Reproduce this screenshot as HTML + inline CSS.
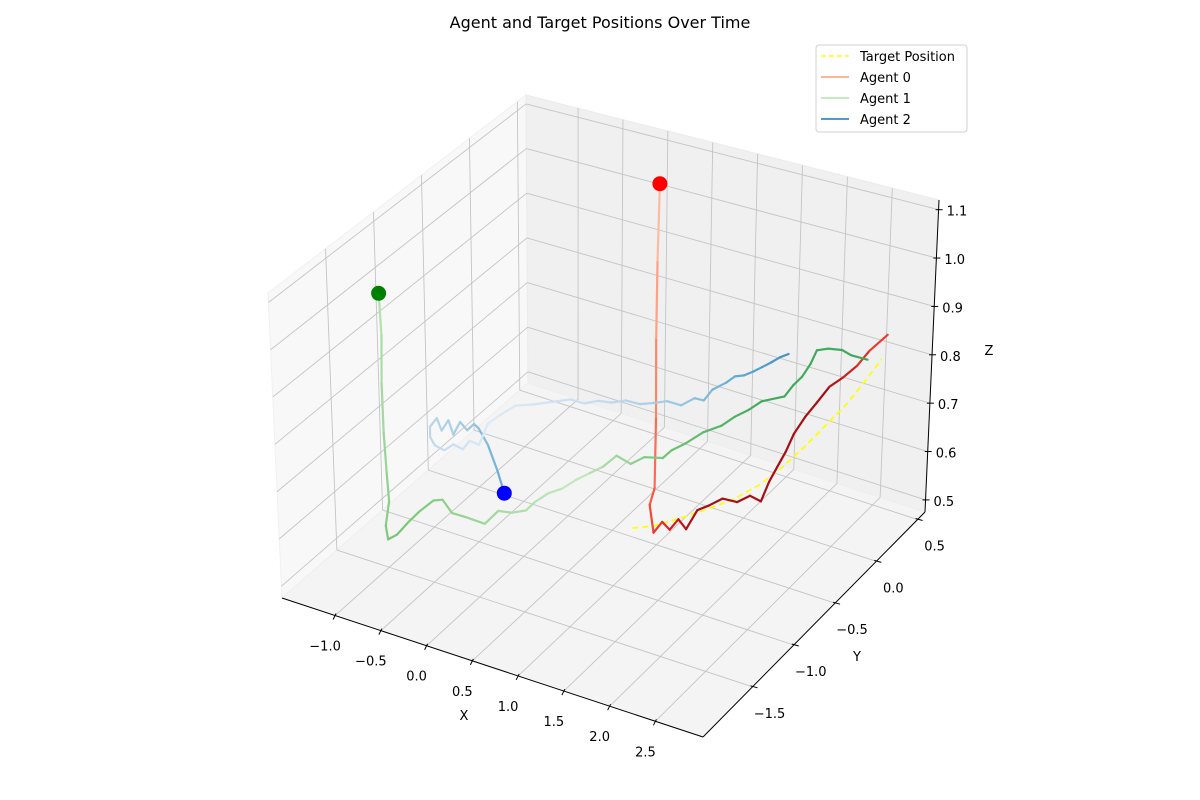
<!DOCTYPE html>
<html><head><meta charset="utf-8"><title>Agent and Target Positions Over Time</title>
<style>
html,body{margin:0;padding:0;background:#fff;}
svg{display:block;font-family:"DejaVu Sans","Liberation Sans",sans-serif;}
</style></head>
<body>
<svg id="chart" width="1200" height="800" viewBox="0 0 1200 800" xmlns="http://www.w3.org/2000/svg">
<rect width="1200" height="800" fill="#fff"/>
<text x="600" y="28" text-anchor="middle" font-size="16" fill="#000">Agent and Target Positions Over Time</text>
<g id="panes"></g>
<g id="grid"></g>
<g id="axes"></g>
<g id="series"></g>
<text x="464" y="720" text-anchor="middle" font-size="13">X</text>
<text x="857" y="661" text-anchor="middle" font-size="13">Y</text>
<text x="989" y="355" text-anchor="middle" font-size="13">Z</text>
<g>
<rect x="816" y="45" width="151" height="87" rx="3" fill="#fff" fill-opacity="0.8" stroke="#d0d0d0"/>
<line x1="821" y1="56" x2="849" y2="56" stroke="#ffff00" stroke-width="1.6" stroke-dasharray="5,3"/>
<text x="860" y="61" font-size="13">Target Position</text>
<line x1="821" y1="77" x2="849" y2="77" stroke="#fcb49a" stroke-width="2"/>
<text x="860" y="82" font-size="13">Agent 0</text>
<line x1="821" y1="98" x2="849" y2="98" stroke="#c7e9c0" stroke-width="2"/>
<text x="860" y="103" font-size="13">Agent 1</text>
<line x1="821" y1="119" x2="849" y2="119" stroke="#4f9ccc" stroke-width="2"/>
<text x="860" y="124" font-size="13">Agent 2</text>
</g>
</svg>
<script>
const xTicks = [-1.0,-0.5,0.0,0.5,1.0,1.5,2.0,2.5];
const yTicks = [-1.5,-1.0,-0.5,0.0,0.5];
const zTicks = [0.5,0.6,0.7,0.8,0.9,1.0,1.1];
const xTickLabels = ["\u22121.0","\u22120.5","0.0","0.5","1.0","1.5","2.0","2.5"];
const yTickLabels = ["\u22121.5","\u22121.0","\u22120.5","0.0","0.5"];
const zTickLabels = ["0.5","0.6","0.7","0.8","0.9","1.0","1.1"];
const xRange = [-1.58, 3.02];
const yRange = [-2.1, 0.59];
const zRange = [0.475, 1.12];

const targetX = [0.870,1.116,1.355,1.625,1.886,2.101,2.234,2.342,2.424,2.500,2.533,2.558];
const targetY = [-0.647,-0.658,-0.637,-0.594,-0.552,-0.454,-0.333,-0.185,-0.023,0.110,0.275,0.482];
const targetZ = [0.527,0.548,0.572,0.600,0.628,0.656,0.679,0.703,0.725,0.745,0.763,0.785];

const agent0X = [0.387,0.553,0.725,0.903,1.052,1.053,1.143,1.158,1.324,1.347,1.529,1.510,1.615,1.733,1.951,2.064,2.251,2.190,2.167,2.147,2.097,2.094,2.118,2.143,2.240,2.321,2.350,2.578];
const agent0Y = [0.122,-0.063,-0.244,-0.421,-0.583,-0.639,-0.685,-0.600,-0.685,-0.609,-0.709,-0.559,-0.540,-0.502,-0.560,-0.528,-0.600,-0.442,-0.322,-0.203,-0.056,0.079,0.176,0.306,0.364,0.439,0.553,0.519];
const agent0Z = [1.101,0.972,0.846,0.720,0.610,0.585,0.540,0.549,0.557,0.567,0.574,0.587,0.599,0.614,0.629,0.643,0.654,0.664,0.674,0.684,0.694,0.707,0.719,0.734,0.749,0.765,0.779,0.830];

const agent1X = [-1.179,-1.159,-1.162,-1.149,-1.130,-1.111,-1.140,-1.123,-1.072,-1.069,-1.051,-1.007,-0.919,-0.695,-0.509,-0.255,-0.233,-0.067,0.057,0.075,0.138,0.244,0.308,0.394,0.477,0.520,0.748,0.831,1.036,1.061,1.145,1.236,1.369,1.434,1.518,1.581,1.782,1.780,1.798,1.770,1.715,1.822,1.990,2.136,2.355];
const agent1Y = [-1.356,-1.358,-1.369,-1.374,-1.374,-1.374,-1.389,-1.385,-1.338,-1.214,-1.106,-0.997,-0.984,-1.101,-1.132,-1.177,-1.049,-1.060,-1.029,-0.947,-0.857,-0.810,-0.721,-0.654,-0.584,-0.475,-0.546,-0.476,-0.475,-0.399,-0.329,-0.218,-0.145,-0.058,0.012,0.100,0.156,0.259,0.342,0.468,0.598,0.619,0.608,0.565,0.527];
const agent1Z = [1.023,0.935,0.833,0.730,0.648,0.587,0.536,0.507,0.512,0.518,0.524,0.531,0.536,0.541,0.549,0.558,0.565,0.573,0.580,0.585,0.592,0.600,0.607,0.615,0.622,0.629,0.637,0.644,0.654,0.659,0.666,0.676,0.685,0.693,0.700,0.707,0.719,0.725,0.730,0.734,0.738,0.744,0.752,0.756,0.765];

const agent2X = [-0.598,-0.702,-0.815,-0.847,-0.780,-0.775,-0.912,-0.847,-1.025,-0.981,-1.138,-1.113,-1.013,-0.895,-0.773,-0.754,-0.631,-0.656,-0.541,-0.604,-0.668,-0.638,-0.573,-0.410,-0.255,-0.099,0.073,0.183,0.333,0.445,0.620,0.742,0.862,1.035,1.105,1.212,1.197,1.270,1.295,1.377,1.431,1.479,1.525,1.566,1.622];
const agent2Y = [-0.619,-0.593,-0.581,-0.648,-0.763,-0.843,-0.785,-0.924,-0.801,-0.919,-0.816,-0.915,-1.013,-1.077,-1.096,-1.014,-1.033,-0.934,-0.945,-0.833,-0.722,-0.626,-0.513,-0.470,-0.420,-0.371,-0.388,-0.346,-0.341,-0.299,-0.317,-0.286,-0.253,-0.270,-0.188,-0.192,-0.078,0.003,0.079,0.100,0.148,0.201,0.257,0.317,0.361];
const agent2Z = [0.507,0.546,0.591,0.636,0.669,0.669,0.669,0.669,0.669,0.669,0.669,0.669,0.669,0.669,0.669,0.669,0.669,0.669,0.669,0.669,0.669,0.672,0.678,0.683,0.689,0.695,0.699,0.704,0.708,0.712,0.717,0.721,0.726,0.730,0.735,0.737,0.740,0.745,0.747,0.750,0.753,0.756,0.759,0.762,0.765];

const NS = "http://www.w3.org/2000/svg";
const C = {
  c000:[282,598], c100:[703,737], c010:[528,383], c110:[925,512],
  c001:[268,293], c101:[711,405], c011:[526,95], c111:[939,200]
};
function lerp(a,b,t){return [a[0]+(b[0]-a[0])*t, a[1]+(b[1]-a[1])*t];}
function P(x,y,z){
  const u=(x-xRange[0])/(xRange[1]-xRange[0]);
  const v=(y-yRange[0])/(yRange[1]-yRange[0]);
  const w=(z-zRange[0])/(zRange[1]-zRange[0]);
  const b=lerp(lerp(C.c000,C.c100,u),lerp(C.c010,C.c110,u),v);
  const t=lerp(lerp(C.c001,C.c101,u),lerp(C.c011,C.c111,u),v);
  return lerp(b,t,w);
}
function mk(tag,attrs,parent){const e=document.createElementNS(NS,tag);for(const k in attrs)e.setAttribute(k,attrs[k]);parent.appendChild(e);return e;}
function poly(pts){return pts.map(p=>p[0].toFixed(1)+","+p[1].toFixed(1)).join(" ");}

const X0=xRange[0],X1=xRange[1],Y0=yRange[0],Y1=yRange[1],Z0=zRange[0],Z1=zRange[1];
const panes=document.getElementById('panes');
let e;
e=mk('polygon',{points:poly([P(X0,Y0,Z0),P(X0,Y1,Z0),P(X0,Y1,Z1),P(X0,Y0,Z1)]),fill:'#f8f8f8',stroke:'#f0f0f0'},panes);


e=mk('polygon',{points:poly([P(X0,Y1,Z0),P(X1,Y1,Z0),P(X1,Y1,Z1),P(X0,Y1,Z1)]),fill:'#f0f0f0',stroke:'#ebebeb'},panes);


e=mk('polygon',{points:poly([P(X0,Y0,Z0),P(X1,Y0,Z0),P(X1,Y1,Z0),P(X0,Y1,Z0)]),fill:'#f4f4f4',stroke:'#eeeeee'},panes);



const grid=document.getElementById('grid');
function gl(a,b,name){const l=mk('line',{x1:a[0],y1:a[1],x2:b[0],y2:b[1],stroke:'#c4c4c4','stroke-width':0.9},grid);

}
xTicks.forEach(t=>{gl(P(t,Y0,Z0),P(t,Y1,Z0),'floor-gridline-x');gl(P(t,Y1,Z0),P(t,Y1,Z1),'back-gridline-x');});
yTicks.forEach(t=>{gl(P(X0,t,Z0),P(X1,t,Z0),'floor-gridline-y');gl(P(X0,t,Z0),P(X0,t,Z1),'left-gridline-y');});
zTicks.forEach(t=>{gl(P(X0,Y0,t),P(X0,Y1,t),'left-gridline-z');gl(P(X0,Y1,t),P(X1,Y1,t),'back-gridline-z');});

const axes=document.getElementById('axes');
function al(a,b,name){const l=mk('line',{x1:a[0],y1:a[1],x2:b[0],y2:b[1],stroke:'#000','stroke-width':1},axes);

}
al(P(X0,Y0,Z0),P(X1,Y0,Z0),'x-axis-line');
al(P(X1,Y0,Z0),P(X1,Y1,Z0),'y-axis-line');
al(P(X1,Y1,Z0),P(X1,Y1,Z1),'z-axis-line');
function tl(x,y,txt,anchor,name){const t=mk('text',{x:x,y:y,'font-size':13,'text-anchor':anchor,fill:'#000'},axes);t.textContent=txt;

}
xTicks.forEach((t,i)=>{const p=P(t,Y0,Z0);al([p[0]+1,p[1]-2],[p[0]-2,p[1]+4],'x-tick');tl(p[0]-10,p[1]+35,xTickLabels[i],'middle','x-tick-label');});
yTicks.forEach((t,i)=>{const p=P(X1,t,Z0);al([p[0]-2,p[1]-1],[p[0]+5,p[1]+1],'y-tick');tl(p[0]+17,p[1]+31,yTickLabels[i],'middle','y-tick-label');});
zTicks.forEach((t,i)=>{const p=P(X1,Y1,t);al([p[0]-3,p[1]],[p[0]+4,p[1]],'z-tick');tl(p[0]+8,p[1]+6,zTickLabels[i],'start','z-tick-label');});

function hex(c){return [parseInt(c.slice(1,3),16),parseInt(c.slice(3,5),16),parseInt(c.slice(5,7),16)];}
function cmap(stops,f){for(let i=1;i<stops.length;i++){if(f<=stops[i][0]){const a=hex(stops[i-1][1]),b=hex(stops[i][1]);const t=(f-stops[i-1][0])/(stops[i][0]-stops[i-1][0]||1);return 'rgb('+a.map((v,k)=>Math.round(v+(b[k]-v)*t)).join(',')+')';}}return stops[stops.length-1][1];}
const series=document.getElementById('series');
function path(xs,ys,zs,stops,name){
  const g=mk('g',{},series);
  
  
  const n=xs.length;
  for(let i=0;i<n-1;i++){const a=P(xs[i],ys[i],zs[i]),b=P(xs[i+1],ys[i+1],zs[i+1]);
    const l=mk('line',{x1:a[0].toFixed(1),y1:a[1].toFixed(1),x2:b[0].toFixed(1),y2:b[1].toFixed(1),stroke:cmap(stops,i/(n-2)),'stroke-width':2.2,'stroke-linecap':'round'},g);
    
    }
}
const tpts=targetX.map((x,i)=>P(x,targetY[i],targetZ[i]));
const tl2=mk('polyline',{points:poly(tpts),fill:'none',stroke:'#ffff00','stroke-width':1.8,'stroke-dasharray':'6,4'},series);


path(agent0X,agent0Y,agent0Z,[[0,'#fcbba1'],[0.12,'#fb6a4a'],[0.22,'#ef3b2c'],[0.32,'#cb181d'],[0.4,'#a50f15'],[0.85,'#a50f15'],[1,'#ef3b2c']],'agent0-path');
path(agent1X,agent1Y,agent1Z,[[0,'#b5e0ad'],[0.17,'#74c476'],[0.35,'#a1d99b'],[0.5,'#c7e9c0'],[0.65,'#74c476'],[0.8,'#41ab5d'],[1,'#41ab5d']],'agent1-path');
path(agent2X,agent2Y,agent2Z,[[0,'#6baed6'],[0.1,'#9ecae1'],[0.3,'#c6dbef'],[0.46,'#deebf7'],[0.62,'#c6dbef'],[0.74,'#9ecae1'],[0.86,'#6baed6'],[1,'#4292c6']],'agent2-path');
[[agent0X,agent0Y,agent0Z,'#ff0000','agent0-start-marker'],[agent1X,agent1Y,agent1Z,'#008000','agent1-start-marker'],[agent2X,agent2Y,agent2Z,'#0000ff','agent2-start-marker']].forEach(s=>{
  const p=P(s[0][0],s[1][0],s[2][0]);
  const c=mk('circle',{cx:p[0].toFixed(1),cy:p[1].toFixed(1),r:7.5,fill:s[3]},series);
  
  
});
</script>
</body></html>
